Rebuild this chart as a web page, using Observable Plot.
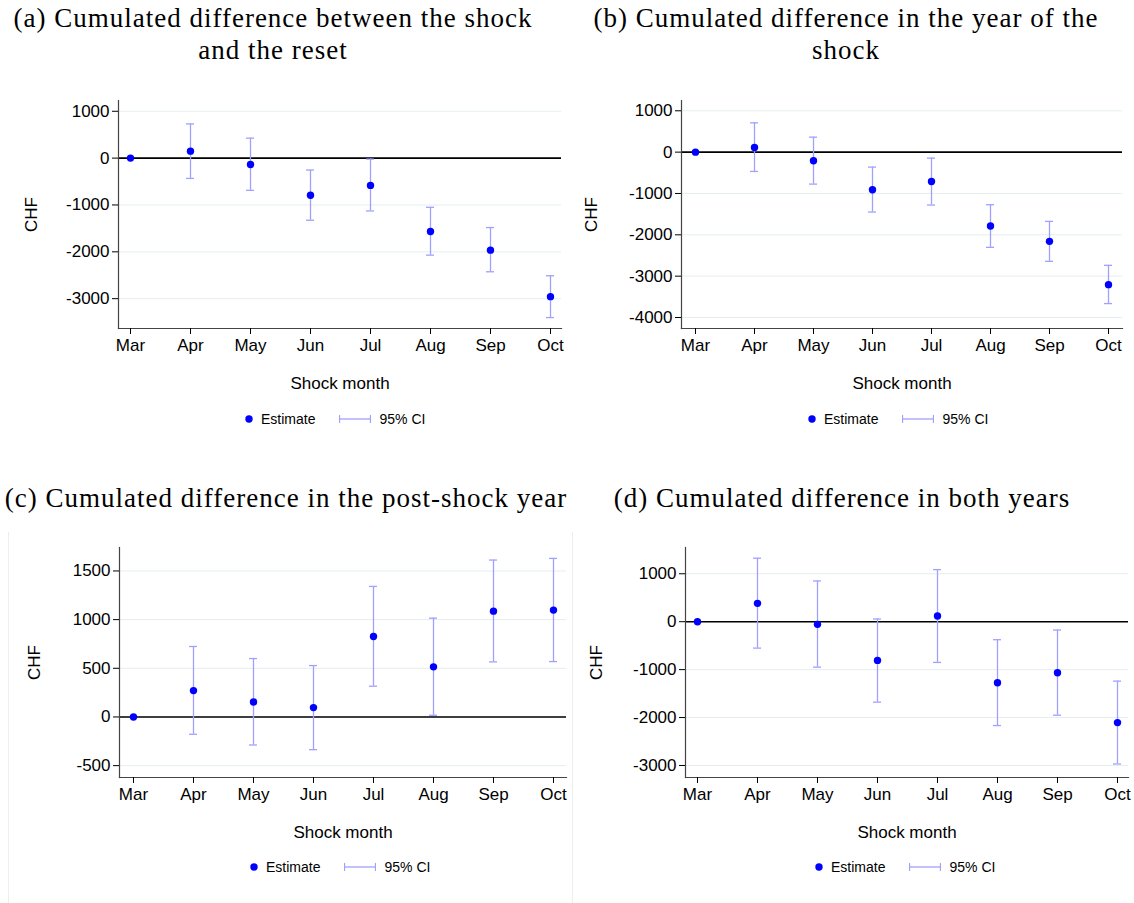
<!DOCTYPE html>
<html><head><meta charset="utf-8">
<script src="https://cdn.jsdelivr.net/npm/d3@7"></script>
<script src="https://cdn.jsdelivr.net/npm/@observablehq/plot@0.6"></script>
<style>
body{margin:0;background:#fff;}
#root{position:relative;width:1134px;height:903px;overflow:hidden;background:#fff;}
.title{position:absolute;width:640px;text-align:center;font-family:"Liberation Serif","Times New Roman",serif;font-size:27px;line-height:32px;letter-spacing:1px;color:#000;white-space:nowrap;}
.panel{position:absolute;}
.panel svg{overflow:visible;}
.legend{position:absolute;display:flex;align-items:center;font-family:"Liberation Sans",Arial,sans-serif;font-size:14px;color:#000;height:20px;white-space:nowrap;}
.vline{position:absolute;width:0;border-left:1px solid #eeeeee;}
</style></head><body><div id="root"></div>
<script>
// ---- data ----
const months = ["Mar","Apr","May","Jun","Jul","Aug","Sep","Oct"];

const titleA = ["(a) Cumulated difference between the shock", "and the reset"];
const titleB = ["(b) Cumulated difference in the year of the", "shock"];
const titleC = ["(c) Cumulated difference in the post-shock year"];
const titleD = ["(d) Cumulated difference in both years"];

const estA = [0, 149, -135, -794, -582, -1567, -1965, -2957];
const loA  = [null, -433, -688, -1326, -1128, -2071, -2426, -3404];
const hiA  = [null, 730, 426, -255, -21, -1050, -1482, -2511];

const estB = [0, 113, -209, -910, -709, -1787, -2158, -3205];
const loB  = [null, -467, -773, -1449, -1280, -2303, -2641, -3663];
const hiB  = [null, 709, 362, -362, -145, -1272, -1675, -2738];

const estC = [0, 271, 154, 96, 827, 515, 1087, 1098];
const loC  = [null, -178, -288, -336, 316, 17, 566, 569];
const hiC  = [null, 724, 600, 528, 1341, 1015, 1612, 1629];

const estD = [0, 383, -56, -808, 118, -1275, -1066, -2105];
const loD  = [null, -551, -948, -1679, -850, -2167, -1951, -2969];
const hiD  = [null, 1324, 850, 56, 1087, -376, -174, -1240];

const ticksA = [1000, 0, -1000, -2000, -3000];
const ticksB = [1000, 0, -1000, -2000, -3000, -4000];
const ticksC = [1500, 1000, 500, 0, -500];
const ticksD = [1000, 0, -1000, -2000, -3000];

const domainA = [-3637, 1230];
const domainB = [-4266, 1249];
const domainC = [-622, 1741];
const domainD = [-3251, 1548];

const xLabel = "Shock month";
const yLabel = "CHF";
const legendLabels = ["Estimate", "95% CI"];

// ---- style ----
const DOT = "#0000ff";
const CI = "#a0a0ff";
const GRID = "#e6eef0";
const AXIS = "#444";
const root = document.getElementById("root");

function makePlot(cfg) {
  const data = months.map((m, i) => ({month: m, est: cfg.est[i], lo: cfg.lo[i], hi: cfg.hi[i]}));
  const ci = data.filter(d => d.lo != null);
  return Plot.plot({
    width: cfg.w, height: cfg.h,
    marginLeft: cfg.ml, marginRight: cfg.mr, marginTop: cfg.mt, marginBottom: cfg.mb,
    style: {fontFamily: '"Liberation Sans", Arial, sans-serif', fontSize: "17px", color: "#000", background: "transparent", overflow: "visible"},
    x: {type: "band", domain: months, paddingInner: 0.9, paddingOuter: 0.13},
    y: {domain: cfg.domain},
    marks: [
      Plot.gridY({ticks: cfg.ticks, stroke: GRID, strokeOpacity: 1, strokeWidth: 1}),
      Plot.ruleY([0], {stroke: "#000", strokeWidth: 1.6}),
      Plot.ruleX(ci, {x: "month", y1: "lo", y2: "hi", stroke: CI, strokeWidth: 1.3}),
      Plot.tickY(ci, {x: "month", y: "lo", stroke: CI, strokeWidth: 1.3, insetLeft: -1, insetRight: -1}),
      Plot.tickY(ci, {x: "month", y: "hi", stroke: CI, strokeWidth: 1.3, insetLeft: -1, insetRight: -1}),
      Plot.dot(data, {x: "month", y: "est", r: 3.7, fill: DOT, stroke: "none"}),
      Plot.frame({anchor: "left", stroke: AXIS, strokeWidth: 1.2}),
      Plot.frame({anchor: "bottom", stroke: AXIS, strokeWidth: 1.2}),
      Plot.axisY({ticks: cfg.ticks, tickSize: 6, tickPadding: 3, tickFormat: d => String(d),
        label: yLabel, labelAnchor: "center", labelOffset: cfg.ylo, labelArrow: "none"}),
      Plot.axisX({tickSize: 6, tickPadding: 4, label: xLabel, labelAnchor: "center", labelOffset: cfg.xlo, labelArrow: "none"})
    ]
  });
}

function addTitle(lines, cx, top) {
  const d = document.createElement("div");
  d.className = "title";
  d.style.left = (cx - 320) + "px";
  d.style.top = top + "px";
  lines.forEach((t, i) => {
    if (i) d.appendChild(document.createElement("br"));
    d.appendChild(document.createTextNode(t));
  });
  root.appendChild(d);
}

function addLegend(dotX, cy) {
  const d = document.createElement("div");
  d.className = "legend";
  d.style.left = (dotX - 4) + "px";
  d.style.top = (cy - 10) + "px";
  d.innerHTML =
    `<svg width="8" height="8" style="display:block"><circle cx="4" cy="4" r="3.7" fill="${DOT}"/></svg>` +
    `<span style="margin-left:8px">${legendLabels[0]}</span>` +
    `<svg width="32" height="10" style="display:block;margin-left:24px"><line x1="0.5" y1="5" x2="31.5" y2="5" stroke="${CI}" stroke-width="1.3"/><line x1="0.5" y1="1" x2="0.5" y2="9" stroke="${CI}" stroke-width="1.3"/><line x1="31.5" y1="1" x2="31.5" y2="9" stroke="${CI}" stroke-width="1.3"/></svg>` +
    `<span style="margin-left:8px">${legendLabels[1]}</span>`;
  root.appendChild(d);
}

function addPanel(cfg) {
  const p = document.createElement("div");
  p.className = "panel";
  p.style.left = cfg.left + "px";
  p.style.top = cfg.top + "px";
  p.appendChild(makePlot(cfg));
  root.appendChild(p);
}

// faint region borders
[[8, 532], [572, 532]].forEach(([x, y]) => {
  const v = document.createElement("div");
  v.className = "vline";
  v.style.left = x + "px"; v.style.top = y + "px"; v.style.height = (903 - y) + "px";
  root.appendChild(v);
});

addTitle(titleA, 273, 2);
addTitle(titleB, 846, 2);
addTitle(titleC, 286, 482);
addTitle(titleD, 842, 482);

addPanel({left: 0, top: 90, w: 566, h: 310, ml: 118, mr: 5, mt: 10, mb: 72, est: estA, lo: loA, hi: hiA, ticks: ticksA, domain: domainA, ylo: 94, xlo: 60});
addPanel({left: 566, top: 90, w: 568, h: 310, ml: 115, mr: 12, mt: 10, mb: 72, est: estB, lo: loB, hi: hiB, ticks: ticksB, domain: domainB, ylo: 97, xlo: 60});
addPanel({left: 0, top: 537, w: 571, h: 310, ml: 119, mr: 5, mt: 10, mb: 70, est: estC, lo: loC, hi: hiC, ticks: ticksC, domain: domainC, ylo: 92, xlo: 60});
addPanel({left: 566, top: 537, w: 568, h: 310, ml: 119, mr: 6, mt: 10, mb: 70, est: estD, lo: loD, hi: hiD, ticks: ticksD, domain: domainD, ylo: 96, xlo: 60});

addLegend(249, 419);
addLegend(812, 419);
addLegend(254, 867);
addLegend(819, 867);
</script>
</body></html>
